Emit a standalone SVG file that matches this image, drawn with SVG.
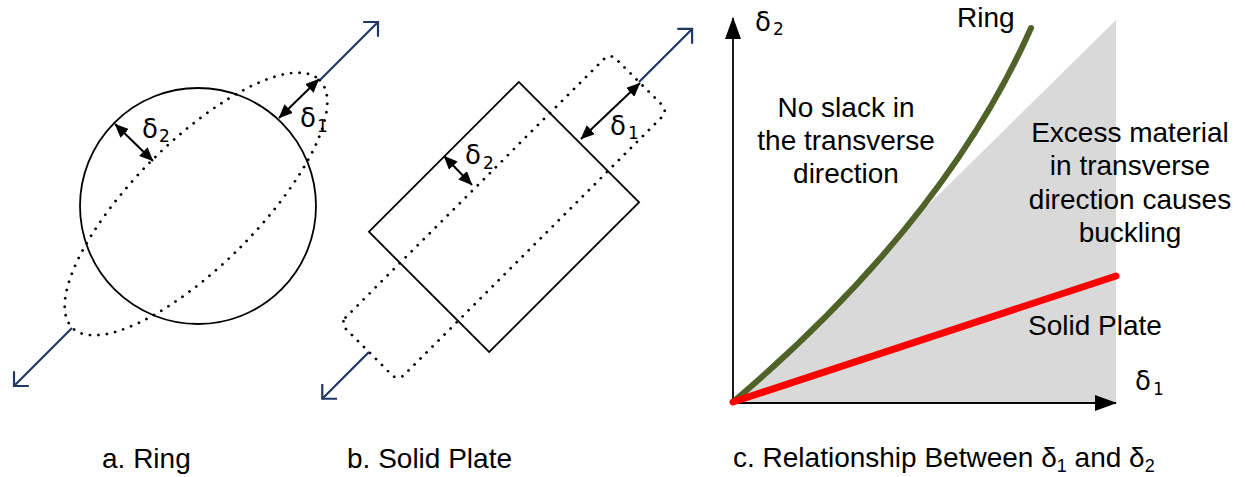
<svg xmlns="http://www.w3.org/2000/svg" width="1245" height="477" viewBox="0 0 1245 477">
<style>
.solid{fill:none;stroke:#000;stroke-width:1.8}
.dots{fill:none;stroke:#000;stroke-width:2.8;stroke-dasharray:0 8.5;stroke-linecap:round}
.pull{fill:none;stroke:#1F3864;stroke-width:2.2;marker-end:url(#openHead)}
.dim{fill:none;stroke:#000;stroke-width:2;marker-start:url(#dimHead);marker-end:url(#dimHead)}
.axis{fill:none;stroke:#000;stroke-width:1.8;marker-end:url(#axisHead)}
.lbl{font-family:"Liberation Sans",Arial,sans-serif;font-size:28px;fill:#000}
.sym{font-family:"DejaVu Sans","Liberation Sans",sans-serif;font-size:26px;fill:#000}
.sub{font-size:17px}
</style>
<defs>
<marker id="axisHead" viewBox="0 0 22 16" refX="21" refY="8" markerWidth="22" markerHeight="16" orient="auto" markerUnits="userSpaceOnUse"><path d="M0,0 L22,8 L0,16 Z" fill="#000"/></marker>
<marker id="dimHead" viewBox="0 0 14 12" refX="13.5" refY="6" markerWidth="14" markerHeight="12" orient="auto-start-reverse" markerUnits="userSpaceOnUse"><path d="M0,0 L14,6 L0,12 Z" fill="#000"/></marker>
<marker id="openHead" viewBox="0 0 14 24" refX="12" refY="12" markerWidth="14" markerHeight="24" orient="auto" markerUnits="userSpaceOnUse"><path d="M1.5,1.5 L12,12 L1.5,22.5" fill="none" stroke="#1F3864" stroke-width="2.2" stroke-linejoin="miter"/></marker>
</defs>

<g id="ring">
<circle class="solid" cx="198" cy="206" r="118"/>
<ellipse class="dots" cx="196" cy="204" rx="175" ry="62" transform="rotate(-45 196 204)"/>
</g>

<g id="plate">
<g transform="translate(504 217) rotate(-45)">
<rect class="solid" x="-106" y="-85" width="212" height="170"/>
<rect class="dots" x="-191" y="-41" width="382" height="82" rx="8"/>
</g>
</g>

<g id="chart">
<path d="M733,402 Q839,312 913,220 L1116,20 L1116,403 L733,403 Z" fill="#D9D9D9"/>
<line class="axis" x1="733" y1="403" x2="733" y2="18"/>
<line class="axis" x1="733" y1="403" x2="1116" y2="403"/>
<path d="M733,402 Q945,222 1031,28" fill="none" stroke="#4F6228" stroke-width="6" stroke-linecap="round"/>
<line x1="733" y1="402" x2="1116" y2="276" stroke="#FF0000" stroke-width="7" stroke-linecap="round"/>
</g>

<g id="connectors">
<line class="pull" x1="320" y1="80" x2="378" y2="22"/>
<line class="pull" x1="72" y1="328" x2="14" y2="386"/>
<g transform="translate(504 217) rotate(-45)">
<line class="pull" x1="191" y1="0" x2="266" y2="0"/>
<line class="pull" x1="-191" y1="0" x2="-257" y2="0"/>
</g>
<line class="dim" x1="279" y1="118" x2="319" y2="79"/>
<line class="dim" x1="115" y1="124" x2="153" y2="161"/>
<line class="dim" x1="581" y1="139" x2="640" y2="83"/>
<line class="dim" x1="444" y1="156" x2="472" y2="185"/>
</g>

<g id="symbols">
<text class="sym" x="300" y="127">δ<tspan class="sub" x="317" y="132">1</tspan></text>
<text class="sym" x="142" y="138">δ<tspan class="sub" x="159" y="142">2</tspan></text>
<text class="sym" x="610" y="135">δ<tspan class="sub" x="628" y="139">1</tspan></text>
<text class="sym" x="465" y="164">δ<tspan class="sub" x="483" y="169">2</tspan></text>
<text class="sym" x="755" y="31">δ<tspan class="sub" x="773" y="35">2</tspan></text>
<text class="sym" x="1135" y="390">δ<tspan class="sub" x="1153" y="395">1</tspan></text>
</g>

<g id="chart-labels">
<text class="lbl" x="957" y="27">Ring</text>
<text class="lbl" text-anchor="middle"><tspan x="846" y="117">No slack in</tspan><tspan x="846" y="150">the transverse</tspan><tspan x="846" y="183">direction</tspan></text>
<text class="lbl" text-anchor="middle"><tspan x="1130" y="142">Excess material</tspan><tspan x="1130" y="175">in transverse</tspan><tspan x="1130" y="209">direction causes</tspan><tspan x="1130" y="242">buckling</tspan></text>
<text class="lbl" x="1028" y="335">Solid Plate</text>
</g>

<g id="captions">
<text class="lbl" x="102" y="468">a. Ring</text>
<text class="lbl" x="347" y="468">b. Solid Plate</text>
<text class="lbl" x="733" y="467">c. Relationship Between δ<tspan font-size="18" dy="5">1</tspan><tspan dy="-5"> and δ</tspan><tspan font-size="18" dy="5">2</tspan></text>
</g>
</svg>
